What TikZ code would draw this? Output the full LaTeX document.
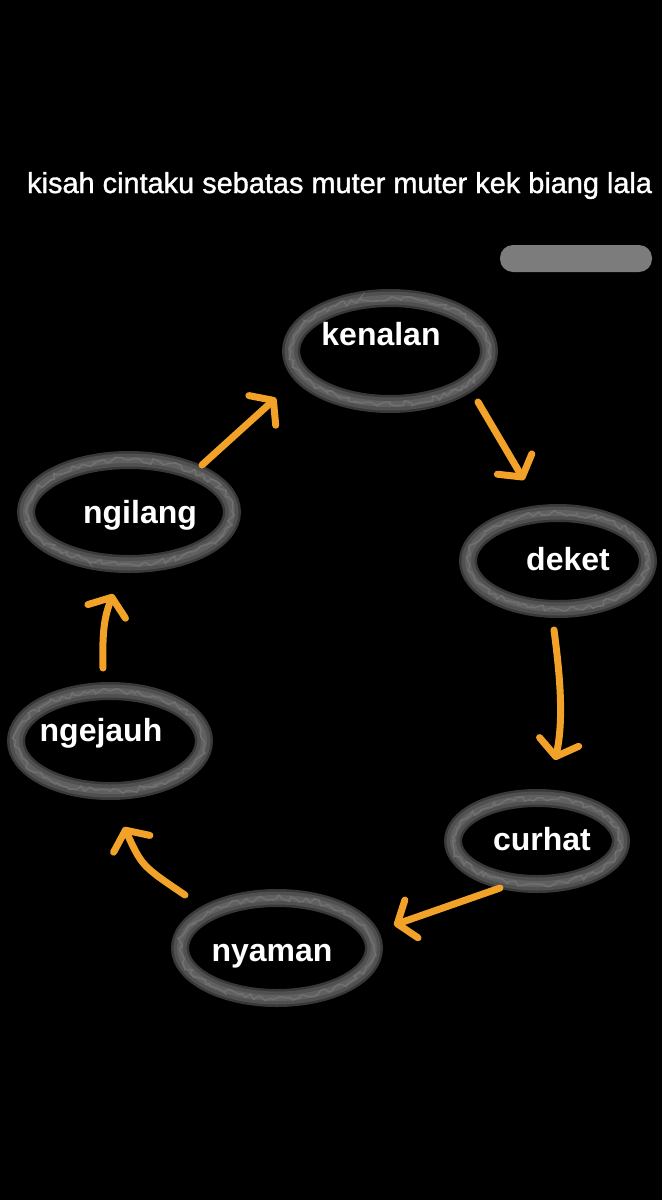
\documentclass[tikz,border=0pt]{standalone}
\usepackage{fontspec}
\setmainfont{Liberation Sans}
\newfontfamily\titlefont[FakeBold=1.2]{Liberation Sans}
\usetikzlibrary{arrows.meta,calc,shapes.geometric,decorations.pathmorphing}
\definecolor{arrcol}{RGB}{242,162,40}
\definecolor{chalkA}{RGB}{56,56,56}
\definecolor{chalkB}{RGB}{80,80,80}
\definecolor{chalkC}{RGB}{96,96,96}
\definecolor{chalkD}{RGB}{112,112,112}
\definecolor{pillcol}{RGB}{124,124,124}
\begin{document}
\begin{tikzpicture}[x=1pt,y=-1pt,
 ring/.style={ellipse, inner sep=0pt, draw=chalkB, line width=13pt,
   preaction={draw=chalkA, line width=18pt},
   postaction={draw=chalkC, line width=6pt},
   postaction={draw=chalkD, line width=1.6pt, decorate,
     decoration={random steps, segment length=4pt, amplitude=3pt}}},
 lbl/.style={text=white, font=\bfseries\fontsize{32}{38}\selectfont, anchor=base, inner sep=0pt},
 conn/.style={draw=arrcol, line width=7pt, line cap=round,
   -{Straight Barb[round, length=15pt, width=40pt]}},
]
\useasboundingbox (0,0) rectangle (662,1200);
\fill[black] (0,0) rectangle (662,1200);

% title and blurred pill
\node[anchor=base west, text=white, inner sep=0pt, font=\titlefont\fontsize{28.9}{34}\selectfont] (title) at (27,193) {kisah cintaku sebatas muter muter kek biang lala};
\node[fill=pillcol, rounded corners=13pt, minimum width=152pt, minimum height=27pt, inner sep=0pt] (pill) at (576,258.5) {};

% rings
\node[ring, minimum width=198pt, minimum height=106pt] (ken) at (390,351) {};
\node[ring, minimum width=180pt, minimum height=96pt] (dek) at (558,561) {};
\node[ring, minimum width=168pt, minimum height=86pt] (cur) at (537,841) {};
\node[ring, minimum width=194pt, minimum height=100pt] (nya) at (277,948) {};
\node[ring, minimum width=188pt, minimum height=100pt] (nge) at (110,741) {};
\node[ring, minimum width=206pt, minimum height=104pt] (ngi) at (129,512) {};

% labels
\node[lbl] (kenT) at (381,345) {kenalan};
\node[lbl] (dekT) at (568,570) {deket};
\node[lbl] (curT) at (542,850) {curhat};
\node[lbl] (nyaT) at (272,961) {nyaman};
\node[lbl] (ngeT) at (101,741) {ngejauh};
\node[lbl] (ngiT) at (140,523) {ngilang};

% connector ends
\path (ken.center) ++(88,51) coordinate (a1s);
\path (dek.center) ++(-34,-81) coordinate (a1e);
\path (dek.center) ++(-4,69) coordinate (a2s);
\path (cur.center) ++(18,-81) coordinate (a2e);
\path (cur.center) ++(-37,47) coordinate (a3s);
\path (nya.center) ++(117,-23) coordinate (a3e);
\path (nya.center) ++(-92,-53) coordinate (a4s);
\path (nge.center) ++(14,86) coordinate (a4e);
\path (nge.center) ++(-7,-73) coordinate (a5s);
\path (ngi.center) ++(-16,82) coordinate (a5e);
\path (ngi.center) ++(73,-47) coordinate (a6s);
\path (ken.center) ++(-114,47) coordinate (a6e);

% connectors
\draw[conn] (a1s) -- (a1e);
\draw[conn] (a2s) .. controls +(6,45) and +(9,-40) .. (a2e);
\draw[conn] (a3s) -- (a3e);
\draw[conn] (a4s) .. controls +(-43,-29) and +(18,39) .. (a4e);
\draw[conn] (a5s) .. controls +(-1,-40) and +(-8,22) .. (a5e);
\draw[conn] (a6s) -- (a6e);
\end{tikzpicture}
\end{document}
